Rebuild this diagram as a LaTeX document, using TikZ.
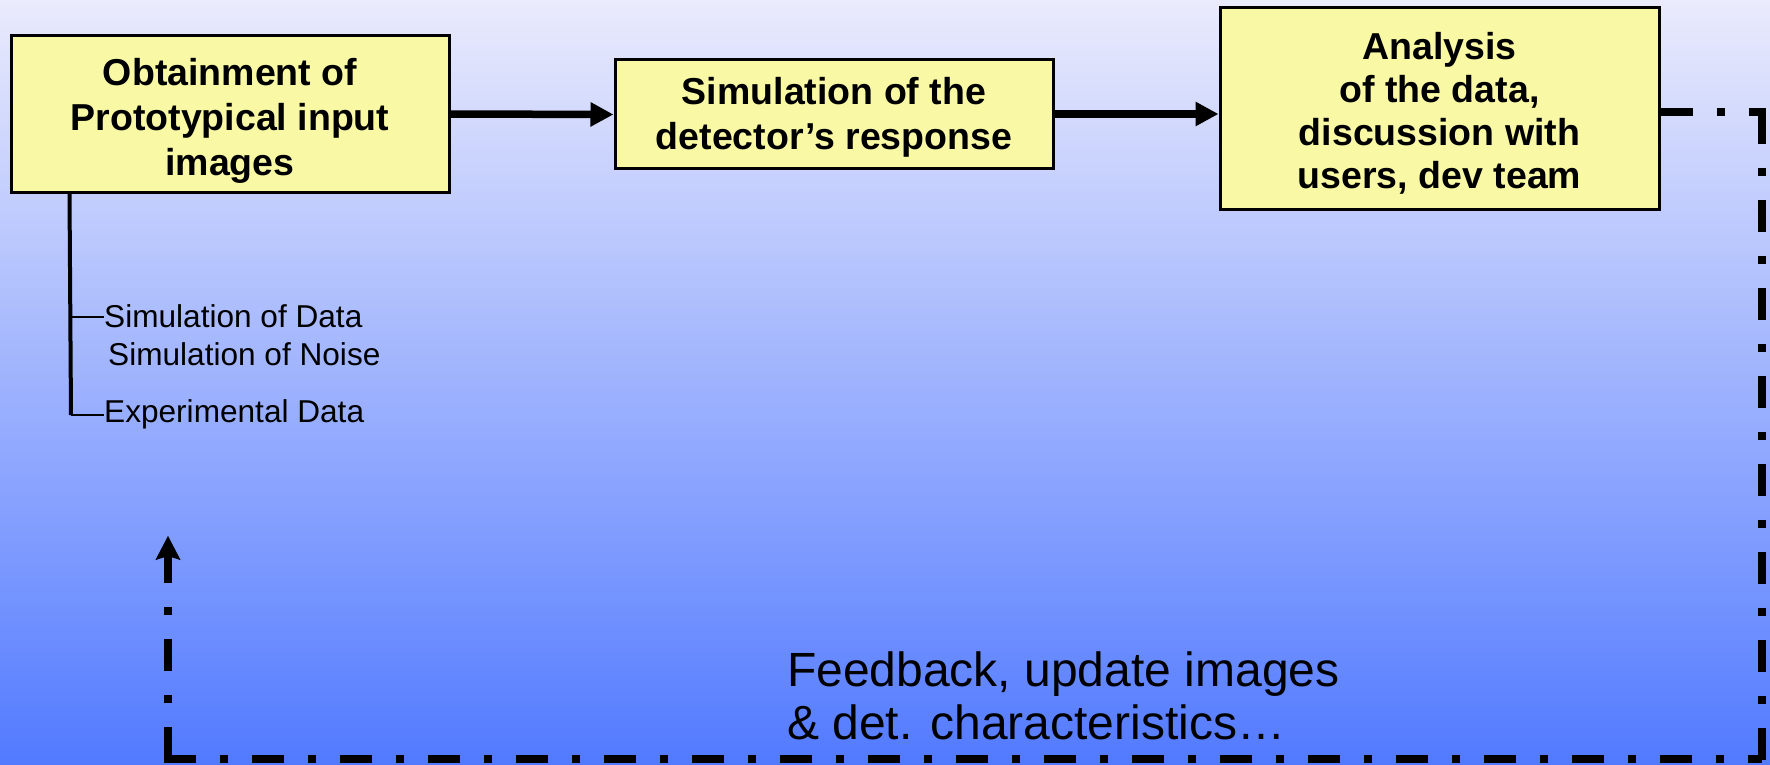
\documentclass[tikz,border=0pt]{standalone}
\usepackage{fontspec}
\setmainfont{Liberation Sans}
\usetikzlibrary{arrows.meta,calc}

\definecolor{bgtop}{RGB}{234,235,252}
\definecolor{bgbottom}{RGB}{82,122,255}
\definecolor{boxfill}{RGB}{249,249,165}

\tikzset{
  stepbox/.style={draw=black, line width=3pt, fill=boxfill, inner sep=0pt},
  boxtext/.style={inner sep=0pt, align=center,
    font=\fontsize{37.5}{45}\selectfont\bfseries},
  flow/.style={line width=7.5pt, -{Triangle[length=23pt,width=23pt]}},
  loopline/.style={line width=8pt, dash pattern=on 32pt off 24pt on 8pt off 24pt},
  loophead/.style={-{Stealth[length=24pt,width=25pt,inset=4pt,line width=0.5pt]}},
  trunk/.style={line width=4pt},
  branch/.style={line width=2.5pt},
  leaf/.style={anchor=base west, inner sep=0pt, font=\fontsize{31.6}{38}\selectfont},
  note/.style={anchor=base west, inner sep=0pt, font=\fontsize{48}{57}\selectfont}
}

\begin{document}
\begin{tikzpicture}[x=1pt,y=-1pt]
  \useasboundingbox (0,0) rectangle (1770,765);
  \fill[top color=bgtop, bottom color=bgbottom] (0,0) rectangle (1770,765);

  % process boxes
  \node[stepbox, minimum width=438pt, minimum height=156pt] (b1) at (230,114) {};
  \node[stepbox, minimum width=438pt, minimum height=109pt] (b2) at (834,114.5) {};
  \node[stepbox, minimum width=439pt, minimum height=201pt] (b3) at (1439.5,108.5) {};
  \node[boxtext] (b1t) at ([yshift=-7pt]b1.center)
    {Obtainment of\\Prototypical input\\images};
  \node[boxtext] (b2t) at ([yshift=-3pt]b2.center)
    {Simulation of the\\detector’s response};
  \node[boxtext, font=\fontsize{37.5}{43}\selectfont\bfseries] (b3t) at ([yshift=-5pt]b3.center)
    {Analysis\\of the data,\\discussion with\\users, dev team};

  % forward arrows
  \draw[flow] (b1.east) -- (b2.west);
  \draw[flow] (b2.east |- 0,114) -- (b3.west |- 0,114);

  % input sources of the first box
  \coordinate (t0) at ([xshift=60pt]b1.south west);
  \coordinate (tEnd) at (71,415);
  \coordinate (tMid) at (71,317);
  \node[leaf] (sd) at (104,327) {Simulation of Data};
  \node[leaf] (sn) at (108,365) {Simulation of Noise};
  \node[leaf] (ed) at (104,422) {Experimental Data};
  \draw[trunk] (t0) -- (tEnd);
  \draw[branch] (tMid) -- (tMid -| sd.west);
  \draw[branch] (tEnd) -- (tEnd -| ed.west);

  % feedback loop, each side starting its own dash pattern
  \coordinate (f1) at (1762,112);
  \coordinate (f2) at (1762,759);
  \coordinate (f3) at (168,759);
  \coordinate (f4) at (168,536);
  \draw[loopline, shorten >=-4pt] (b3.east |- f1) -- (f1);
  \draw[loopline, shorten >=-4pt] (f1) -- (f2);
  \draw[loopline, shorten <=-4pt] (f3) -- (f2);
  \draw[loopline, loophead] (f3) -- (f4);

  \node[note] (fb1) at (787,686) {Feedback, update images};
  \node[note] (fb2) at (787,739) {\& det. characteristics…};
\end{tikzpicture}
\end{document}
